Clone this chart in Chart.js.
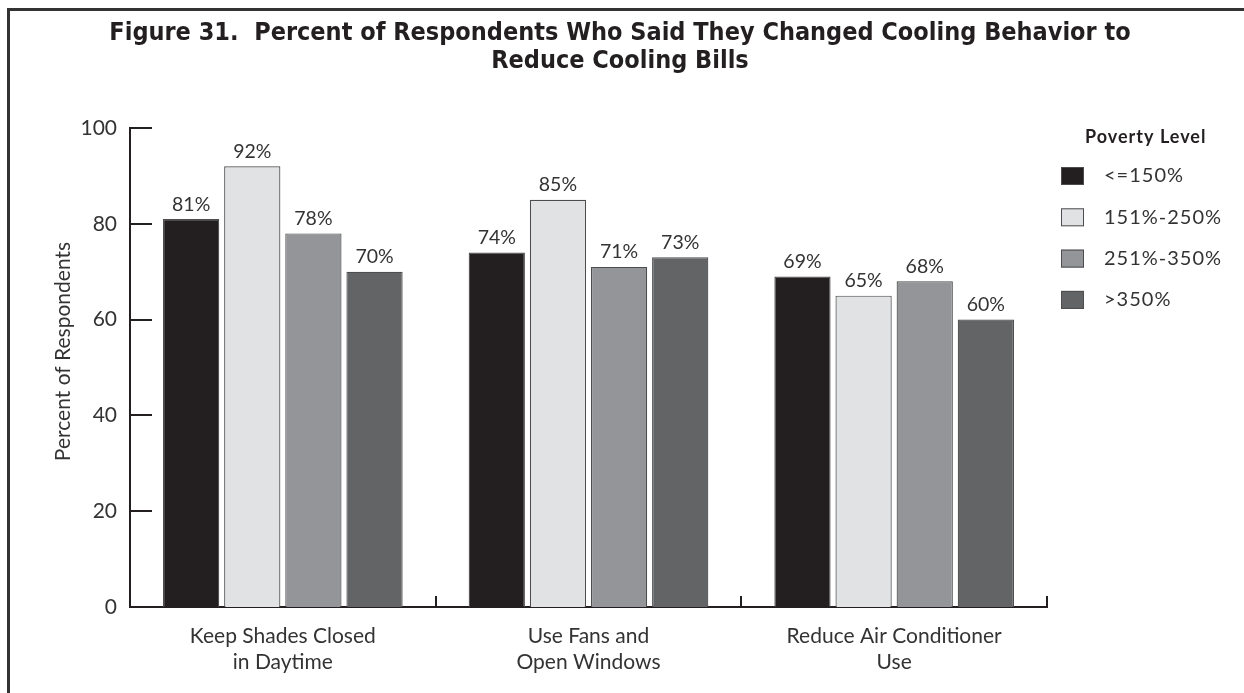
<!DOCTYPE html>
<html>
<head>
<meta charset="utf-8">
<script src="https://cdn.jsdelivr.net/npm/chart.js@4"></script>
<style>
  html, body { margin: 0; padding: 0; background: #fff; overflow: hidden; }
  #frame {
    position: absolute; left: 7px; top: 8px; width: 1400px; height: 900px;
    border-left: 3px solid #333; border-top: 3px solid #333;
  }
  #chart { position: absolute; left: 0; top: 0; }
</style>
</head>
<body>
<div id="frame"></div>
<canvas id="chart" width="1244" height="693"></canvas>
<script>
const categories = [
  ['Keep Shades Closed', 'in Daytime'],
  ['Use Fans and', 'Open Windows'],
  ['Reduce Air Conditioner', 'Use'],
];
const povertyLevels = ['<=150%', '151%-250%', '251%-350%', '>350%'];
const levelColors = ['#231f20', '#e1e2e4', '#939598', '#636466'];
const pctUnder150 = [81, 74, 69];
const pct151to250 = [92, 85, 65];
const pct251to350 = [78, 71, 68];
const pctOver350 = [70, 73, 60];
const yTicks = [0, 20, 40, 60, 80, 100];
const titleLines = [
  'Figure 31.  Percent of Respondents Who Said They Changed Cooling Behavior to',
  'Reduce Cooling Bills',
];
const yAxisTitle = 'Percent of Respondents';
const legendTitle = 'Poverty Level';

const series = [pctUnder150, pct151to250, pct251to350, pctOver350];
const INK = '#231f20';
const TEXT = '#333';
const BODY_FONT = "Lato, 'Open Sans', sans-serif";
const TITLE_FONT = "'Liberation Sans Narrow', 'DejaVu Sans Condensed', sans-serif";

// page heading and the rotated y axis caption
const headings = {
  id: 'headings',
  afterDraw(chart) {
    const { ctx, chartArea } = chart;
    ctx.save();
    ctx.fillStyle = INK;
    ctx.textAlign = 'center';
    ctx.textBaseline = 'middle';
    ctx.font = `bold 25px ${TITLE_FONT}`;
    ctx.fillText(titleLines[0], 620, 33);
    ctx.fillText(titleLines[1], 620, 61);

    ctx.fillStyle = TEXT;
    ctx.font = `21px ${BODY_FONT}`;
    ctx.translate(63, (chartArea.top + chartArea.bottom) / 2 - 16);
    ctx.rotate(-Math.PI / 2);
    ctx.fillText(yAxisTitle, 0, 0);
    ctx.restore();
  },
};

// inward tick marks on the y axis, upward marks between groups on the x axis
const axisMarks = {
  id: 'axisMarks',
  afterDraw(chart) {
    const { ctx, chartArea, scales } = chart;
    ctx.save();
    ctx.strokeStyle = INK;
    ctx.lineWidth = 2;
    yTicks.forEach((v) => {
      if (v === 0) return;
      const y = Math.round(scales.y.getPixelForValue(v));
      ctx.beginPath();
      ctx.moveTo(chartArea.left, y);
      ctx.lineTo(chartArea.left + 22, y);
      ctx.stroke();
    });
    const step = (chartArea.right - chartArea.left) / categories.length;
    for (let i = 1; i <= categories.length; i++) {
      const x = Math.round(scales.x.getPixelForValue(i - 1) + step / 2);
      ctx.beginPath();
      ctx.moveTo(x, chartArea.bottom);
      ctx.lineTo(x, chartArea.bottom - 11);
      ctx.stroke();
    }
    ctx.restore();
  },
};

// percent labels above each bar
const valueLabels = {
  id: 'valueLabels',
  afterDatasetsDraw(chart) {
    const { ctx } = chart;
    ctx.save();
    ctx.font = `19.5px ${BODY_FONT}`;
    ctx.fillStyle = TEXT;
    ctx.textAlign = 'center';
    ctx.textBaseline = 'bottom';
    chart.data.datasets.forEach((ds, di) => {
      chart.getDatasetMeta(di).data.forEach((bar, i) => {
        ctx.fillText(ds.data[i] + '%', bar.x, bar.y - 5);
      });
    });
    ctx.restore();
  },
};

// legend box at the right, with its heading
const sideLegend = {
  id: 'sideLegend',
  afterDraw(chart) {
    const { ctx } = chart;
    ctx.save();
    ctx.fillStyle = INK;
    ctx.textBaseline = 'middle';
    ctx.letterSpacing = '1px';
    ctx.font = `bold 18px ${BODY_FONT}`;
    ctx.fillText(legendTitle, 1085, 137);
    ctx.font = `20px ${BODY_FONT}`;
    chart.data.datasets.forEach((ds, i) => {
      const cy = 176 + i * 41.3;
      ctx.fillStyle = ds.backgroundColor;
      ctx.fillRect(1061, cy - 9, 23, 18);
      ctx.strokeStyle = '#4d4d4f';
      ctx.lineWidth = 1;
      ctx.strokeRect(1061.5, cy - 8.5, 22, 17);
      ctx.fillStyle = TEXT;
      ctx.fillText(ds.label, 1104, cy);
    });
    ctx.restore();
  },
};

new Chart(document.getElementById('chart'), {
  type: 'bar',
  data: {
    labels: categories,
    datasets: povertyLevels.map((label, i) => ({
      label,
      data: series[i],
      backgroundColor: levelColors[i],
      borderColor: '#4d4d4f',
      borderWidth: 1.2,
      categoryPercentage: 0.8,
      barPercentage: 0.92,
    })),
  },
  options: {
    responsive: false,
    animation: false,
    devicePixelRatio: 1,
    layout: { padding: { left: 0, right: 197, top: 128, bottom: 0 } },
    plugins: {
      legend: { display: false },
      tooltip: { enabled: false },
      title: { display: false },
    },
    scales: {
      x: {
        grid: { display: false, drawTicks: false },
        border: { display: true, color: INK, width: 2 },
        ticks: { color: TEXT, padding: 17, font: { family: BODY_FONT, size: 21, lineHeight: 1.2 } },
        afterFit: (s) => { s.height = 86; },
      },
      y: {
        min: 0,
        max: 100,
        afterBuildTicks: (s) => { s.ticks = yTicks.map((v) => ({ value: v })); },
        grid: { display: false, drawTicks: false },
        border: { display: true, color: INK, width: 2 },
        ticks: { color: TEXT, padding: 13, font: { family: BODY_FONT, size: 21 } },
        afterFit: (s) => { s.width = 130; },
      },
    },
  },
  plugins: [axisMarks, valueLabels, sideLegend, headings],
});
</script>
</body>
</html>
